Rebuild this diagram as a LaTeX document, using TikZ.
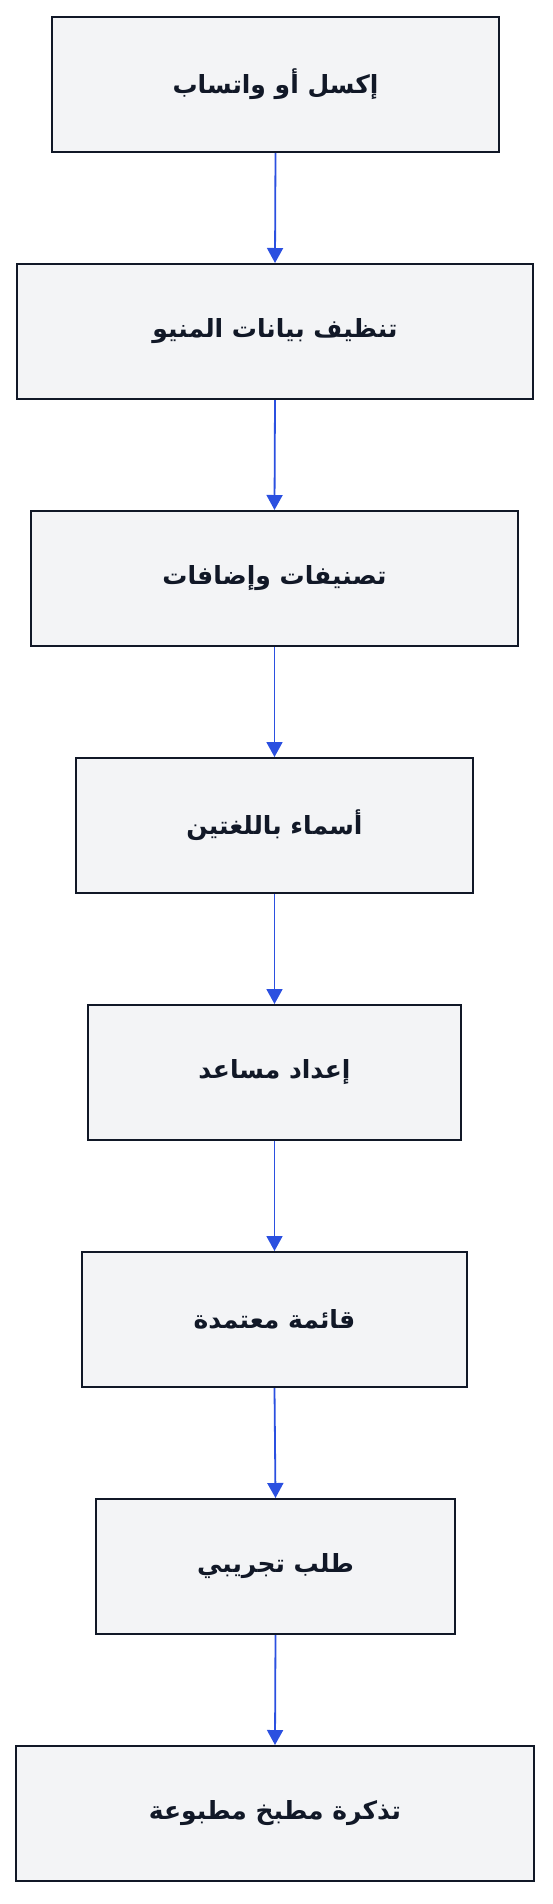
\documentclass[tikz,border=0pt]{standalone}
\usepackage{fontspec}
\TeXXeTstate=1
\newfontfamily\arabicfont[Script=Arabic]{DejaVu Sans}
\usetikzlibrary{arrows.meta}
\definecolor{boxfill}{HTML}{F3F4F6}
\definecolor{boxdraw}{HTML}{111827}
\definecolor{flow}{HTML}{2B50E0}
\begin{document}
\begin{tikzpicture}[x=1pt,y=-1pt,
  stepbox/.style={draw=boxdraw, fill=boxfill, line width=2pt, minimum height=135pt,
    inner sep=0pt, font=\arabicfont\bfseries\fontsize{25}{30}\selectfont, text=boxdraw},
  flowline/.style={draw=flow, line width=1.8pt, -{Triangle[length=15pt,width=16pt]}}]
\useasboundingbox (0,0) rectangle (552,1904);
\node[stepbox, minimum width=447pt] (n1) at (275.5,84.5)  {\beginR إكسل أو واتساب\endR};
\node[stepbox, minimum width=516pt] (n2) at (275,331.5)   {\beginR تنظيف بيانات المنيو\endR};
\node[stepbox, minimum width=487pt] (n3) at (274.5,578.5) {\beginR تصنيفات وإضافات\endR};
\node[stepbox, minimum width=397pt] (n4) at (274.5,825.5) {\beginR أسماء باللغتين\endR};
\node[stepbox, minimum width=373pt] (n5) at (274.5,1072.5){\beginR إعداد مساعد\endR};
\node[stepbox, minimum width=385pt] (n6) at (274.5,1319.5){\beginR قائمة معتمدة\endR};
\node[stepbox, minimum width=359pt] (n7) at (275.5,1566.5){\beginR طلب تجريبي\endR};
\node[stepbox, minimum width=518pt] (n8) at (275,1813.5)  {\beginR تذكرة مطبخ مطبوعة\endR};
\foreach \a/\b in {n1/n2,n2/n3,n3/n4,n4/n5,n5/n6,n6/n7,n7/n8}
  \draw[flowline] (\a.south) -- (\b.north);
\end{tikzpicture}
\end{document}
